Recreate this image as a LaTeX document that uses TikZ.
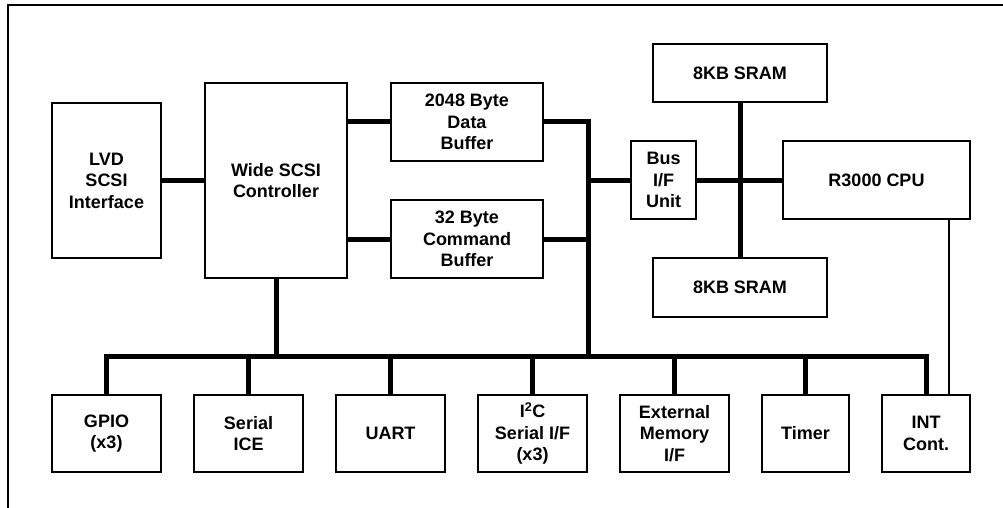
\documentclass[tikz,border=0pt]{standalone}
\usepackage{fontspec}
\setmainfont{Liberation Sans}
\begin{document}
\begin{tikzpicture}[x=1pt,y=-1pt,
  box/.style={draw,line width=1.5pt,fill=white,align=center,inner sep=0pt,
    font=\fontsize{18}{21.5}\selectfont\bfseries},
  bus/.style={line width=5pt,line join=miter,line cap=butt},
  thin/.style={line width=1.8pt}]
\useasboundingbox (0,0) rectangle (1003,508);
\draw[line width=1.8pt] (8,508) -- (8,5) -- (1003,5);
% nodes
\node[box,minimum width=109,minimum height=155] (lvd) at (106.5,180.5) {LVD\\SCSI\\Interface};
\node[box,minimum width=142,minimum height=195] (wide) at (276,180.5) {Wide SCSI\\Controller};
\node[box,minimum width=152,minimum height=78] (data) at (467,122) {2048 Byte\\Data\\Buffer};
\node[box,minimum width=152,minimum height=78] (cmd) at (467,239) {32 Byte\\Command\\Buffer};
\node[box,minimum width=65,minimum height=78] (busif) at (663.5,180) {Bus\\I/F\\Unit};
\node[box,minimum width=174,minimum height=58] (sram1) at (740,73) {8KB SRAM};
\node[box,minimum width=174,minimum height=59] (sram2) at (740,287.5) {8KB SRAM};
\node[box,minimum width=187,minimum height=78] (cpu) at (876.5,180) {R3000 CPU};
\node[box,minimum width=109,minimum height=77] (gpio) at (106.5,433.5) {GPIO\\(x3)};
\node[box,minimum width=109,minimum height=77] (ice) at (248.5,433.5) {Serial\\ICE};
\node[box,minimum width=109,minimum height=77] (uart) at (390.5,433.5) {UART};
\node[box,minimum width=109,minimum height=77] (i2c) at (532.5,433.5) {I\textsuperscript{2}C\\Serial I/F\\(x3)};
\node[box,minimum width=109,minimum height=77] (ext) at (674.5,433.5) {External\\Memory\\I/F};
\node[box,minimum width=87,minimum height=77] (timer) at (805.5,433.5) {Timer};
\node[box,minimum width=88,minimum height=77] (intc) at (926,433.5) {INT\\Cont.};
\coordinate (vbus) at (588,356);
\coordinate (busR) at (926,356);
% connectors
\draw[bus] (lvd.east) -- (wide.west);
\draw[bus] (wide.east |- data.west) -- (data.west);
\draw[bus] (wide.east |- cmd.west) -- (cmd.west);
\draw[bus] (data.east) -| (vbus);
\draw[bus] (cmd.east) -- (cmd.east -| vbus);
\draw[bus] (busif.west) -- (busif.west -| vbus);
\draw[bus] (busif.east) -- (cpu.west);
\draw[bus] (sram1.south) -- (sram2.north);
\draw[bus] (gpio.north) |- (busR) -- (intc.north);
\draw[bus] (wide.south) -- (wide.south |- vbus);
\draw[bus] (ice.north) -- (ice.north |- vbus);
\draw[bus] (uart.north) -- (uart.north |- vbus);
\draw[bus] (i2c.north) -- (i2c.north |- vbus);
\draw[bus] (ext.north) -- (ext.north |- vbus);
\draw[bus] (timer.north) -- (timer.north |- vbus);
\draw[thin] ([xshift=-22pt]cpu.south east) -- ([xshift=-22pt]intc.north east);
\end{tikzpicture}
\end{document}
